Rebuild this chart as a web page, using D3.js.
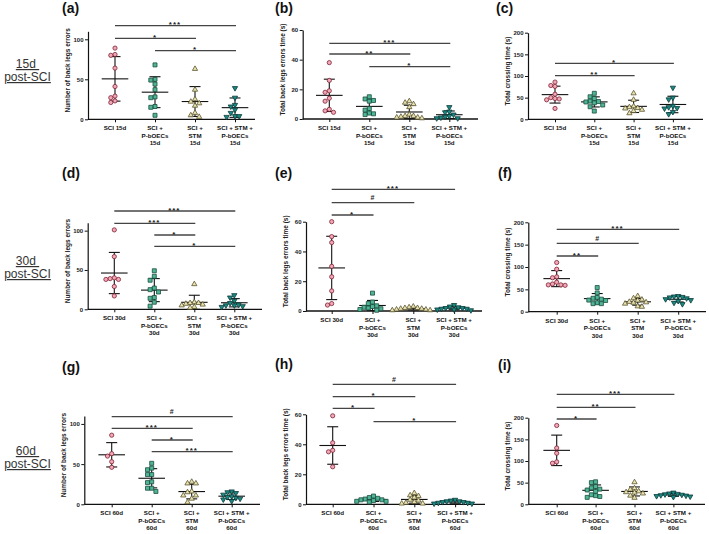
<!DOCTYPE html>
<html>
<head>
<meta charset="utf-8">
<script src="https://cdn.jsdelivr.net/npm/d3@7"></script>
<style>
  body { margin: 0; background: #fff; }
  svg { display: block; font-family: "Liberation Sans", Arial, sans-serif; }
</style>
</head>
<body>
<div id="chart"></div>
<script>
// ---- data ----
const days = ['15d', '30d', '60d'];
const categoryLines = [['SCI'], ['SCI +', 'P-bOECs'], ['SCI +', 'STM'], ['SCI + STM +', 'P-bOECs']];
const yTitles = ['Number of back legs errors', 'Total back legs errors time (s)', 'Total crossing time (s)'];
const yMaxes = [110, 60, 200];
const yTicks = [[0, 50, 100], [0, 20, 40, 60], [0, 50, 100, 150, 200]];
const panelLetters = ['(a)', '(b)', '(c)', '(d)', '(e)', '(f)', '(g)', '(h)', '(i)'];

// values per group: SCI, SCI+P-bOECs, SCI+STM, SCI+STM+P-bOECs
const errors15 = [
  [89, 81, 80, 64, 41, 29, 27, 23, 21],
  [68, 50, 49, 44, 37, 28, 27, 16, 15, 5],
  [63, 37, 25, 22, 20, 17, 8, 5, 3],
  [39, 27, 18, 16, 12, 8, 4, 4, 3]
];
const errTime15 = [
  [38, 26, 19, 18, 14, 12, 6.5, 5.5, 4.5],
  [15, 13.5, 12.5, 12, 7, 6, 4, 3.5, 3],
  [12, 11, 10, 8, 3, 2, 2, 1.5, 1, 1, 0.5],
  [8, 5, 4.5, 3, 2, 1.5, 1, 0.5, 0.5]
];
const crossing15 = [
  [86, 78, 76, 58, 50, 48, 47, 45, 25],
  [60, 52, 48, 42, 41, 40, 38, 33, 29, 19],
  [60, 45, 30, 28, 26, 25, 22, 19, 14],
  [73, 50, 46, 31, 28, 26, 25, 17, 12]
];
const errors30 = [
  [101, 67, 40, 39, 38, 38, 29, 17],
  [49, 42, 37, 27, 25, 22, 15, 14, 9, 4],
  [32, 9, 8, 8, 7, 6, 5, 3, 2],
  [18, 15, 11, 8, 6, 5, 5, 4, 3]
];
const errTime30 = [
  [60, 50, 46, 30, 23, 13.5, 5, 4],
  [12, 6, 5, 3.5, 3, 2.5, 2, 1.5, 1, 0.5],
  [3, 2.5, 2, 2, 1.5, 1.5, 1, 1, 0.5, 0.5],
  [4, 3, 2.5, 2, 2, 1.5, 1.5, 1, 1, 0.5]
];
const crossing30 = [
  [110, 95, 78, 76, 66, 62, 60, 60, 59],
  [54, 42, 32, 30, 28, 26, 25, 20, 18, 18],
  [35, 30, 27, 25, 22, 21, 20, 18, 12, 11],
  [35, 34, 33, 32, 30, 28, 26, 24, 20, 17]
];
const errors60 = [
  [86, 63, 60, 53, 46],
  [51, 45, 43, 37, 37, 28, 27, 20, 20, 16],
  [28, 26, 26, 16, 15, 11, 11, 7, 2.5],
  [16, 15, 14, 12, 10, 9, 8, 7, 6, 4]
];
const errTime60 = [
  [59, 41, 36, 35, 25],
  [5.5, 4.5, 4, 3.5, 3, 3, 2.5, 2, 2, 1.5],
  [7.5, 6, 5.5, 4.5, 3, 2.5, 1.5, 1, 0.5, 0.5],
  [3, 2.5, 2, 2, 1.5, 1.5, 1, 1, 0.5, 0.5]
];
const crossing60 = [
  [182, 130, 118, 98, 95],
  [52, 50, 41, 38, 35, 33, 30, 22, 20, 18, 16],
  [51, 37, 34, 30, 28, 27, 25, 20, 15],
  [27, 25, 24, 23, 22, 21, 20, 19, 18, 17]
];

// significance comparisons: [from group, to group, label]
const sigA = [[0, 3, '***'], [0, 2, '*'], [1, 3, '*']];
const sigB = [[0, 3, '***'], [0, 2, '**'], [1, 3, '*']];
const sigC = [[0, 3, '*'], [0, 2, '**']];
const sigD = [[0, 3, '***'], [0, 2, '***'], [1, 2, '*'], [1, 3, '*']];
const sigE = [[0, 3, '***'], [0, 2, '#'], [0, 1, '*']];
const sigF = [[0, 3, '***'], [0, 2, '#'], [0, 1, '**']];
const sigG = [[0, 3, '#'], [0, 2, '***'], [1, 2, '*'], [1, 3, '***']];
const sigH = [[0, 3, '#'], [0, 2, '*'], [0, 1, '*'], [1, 3, '*']];
const sigI = [[0, 3, '***'], [0, 2, '**'], [0, 1, '*']];

const panelValues = [errors15, errTime15, crossing15, errors30, errTime30, crossing30, errors60, errTime60, crossing60];
const panelSigs = [sigA, sigB, sigC, sigD, sigE, sigF, sigG, sigH, sigI];

// ---- layout (pixels) ----
const layout = [
  { ax: 88,    y0: 119.3, top: 31.3,  cx: 115,   step: 40,   xEnd: 255, sigY: [25.7, 38.3, 50.7], lx: 62,  ly: 13 },
  { ax: 302.7, y0: 119,   top: 30,    cx: 329.3, step: 40,   xEnd: 478, sigY: [43.3, 54, 66.7],   lx: 275, ly: 13 },
  { ax: 528,   y0: 119.3, top: 32.7,  cx: 555,   step: 39.3, xEnd: 703, sigY: [63.3, 75.7],       lx: 496, ly: 13 },
  { ax: 87.7,  y0: 309.3, top: 222.8, cx: 114.3, step: 40,   xEnd: 262, sigY: [211, 223.3, 235, 246.3], lx: 62, ly: 178 },
  { ax: 306,   y0: 311,   top: 221.7, cx: 331.7, step: 40.8, xEnd: 482, sigY: [189.3, 202.7, 215], lx: 275, ly: 178 },
  { ax: 528.3, y0: 311.7, top: 222.3, cx: 556.7, step: 40.5, xEnd: 706, sigY: [229.3, 243.3, 256], lx: 498, ly: 178 },
  { ax: 84.3,  y0: 504.3, top: 415.9, cx: 111.7, step: 40,   xEnd: 260, sigY: [416.7, 428.3, 440, 451.7], lx: 62, ly: 372 },
  { ax: 306,   y0: 504.3, top: 414.3, cx: 332.7, step: 40.8, xEnd: 485, sigY: [384.3, 396.7, 408.3, 421.7], lx: 275, ly: 369 },
  { ax: 528.3, y0: 504.3, top: 417.7, cx: 556.7, step: 38.9, xEnd: 705, sigY: [394.3, 407.3, 419], lx: 498, ly: 370 }
];
const rowLabelY = [[68, 81], [265, 278], [455, 468]];

const markers = [
  { type: d3.symbolCircle,   size: 14, rot: 0,   fill: '#f2a7b5', stroke: '#7d2235' },
  { type: d3.symbolSquare,   size: 16, rot: 0,   fill: '#4fb596', stroke: '#1b4d3e' },
  { type: d3.symbolTriangle, size: 12, rot: 0,   fill: '#e9e2b0', stroke: '#5b5530' },
  { type: d3.symbolTriangle, size: 12, rot: 180, fill: '#1a8a84', stroke: '#0b3a37' }
];

const W = 709, H = 534;
const svg = d3.select('#chart').append('svg').attr('width', W).attr('height', H);

// simple beeswarm: spread points that would overlap
function swarm(vals, y, d) {
  const placed = [];
  vals.map(v => ({ v, py: y(v) }))
    .sort((a, b) => a.py - b.py)
    .forEach(p => {
      for (let k = 0; k < 40; k++) {
        const off = (k === 0 ? 0 : (k % 2 ? -Math.ceil(k / 2) : Math.ceil(k / 2))) * d;
        const hit = placed.some(q => Math.hypot(q.off - off, q.py - p.py) < d);
        if (!hit) { p.off = off; break; }
      }
      placed.push(p);
    });
  return placed;
}

// row labels
days.forEach((day, r) => {
  const t = svg.append('text').attr('text-anchor', 'middle').attr('fill', '#333')
    .style('font-size', '12px').style('text-decoration', 'underline');
  t.append('tspan').attr('x', 27.5).attr('y', rowLabelY[r][0]).text(day + '\u00a0');
  t.append('tspan').attr('x', 27.5).attr('y', rowLabelY[r][1]).text('post-SCI');
});

panelValues.forEach((values, idx) => {
  const row = Math.floor(idx / 3), col = idx % 3;
  const L = layout[idx];
  const day = days[row];
  const y = d3.scaleLinear().domain([0, yMaxes[col]]).range([L.y0, L.top]);
  const x = d3.scalePoint().domain(d3.range(4)).range([L.cx, L.cx + 3 * L.step]);
  const g = svg.append('g');

  // panel letter
  g.append('text').attr('x', L.lx).attr('y', L.ly)
    .style('font-size', '14px').style('font-weight', 'bold').attr('fill', '#111')
    .text(panelLetters[idx]);

  // y axis
  const yAxis = g.append('g').attr('transform', `translate(${L.ax},0)`)
    .call(d3.axisLeft(y).tickValues(yTicks[col]).tickSize(3).tickSizeOuter(0).tickPadding(1.5));
  yAxis.select('.domain').attr('stroke', '#111').attr('stroke-width', 1.2);
  yAxis.selectAll('.tick line').attr('stroke', '#111').attr('stroke-width', 1);
  yAxis.selectAll('.tick text').attr('fill', '#222')
    .style('font-size', '6px').style('font-weight', 'bold').style('font-family', null);

  // y title
  g.append('text')
    .attr('transform', `translate(${L.ax - 18},${(L.top + L.y0) / 2 - 5}) rotate(-90)`)
    .attr('text-anchor', 'middle').attr('fill', '#222')
    .style('font-size', '6.5px').style('font-weight', 'bold')
    .text(yTitles[col]);

  // x axis
  g.append('line').attr('x1', L.ax).attr('x2', L.xEnd).attr('y1', L.y0).attr('y2', L.y0)
    .attr('stroke', '#111').attr('stroke-width', 1.3);
  const xAxis = g.append('g').attr('transform', `translate(0,${L.y0})`)
    .call(d3.axisBottom(x).tickSize(3).tickFormat(''));
  xAxis.select('.domain').remove();
  xAxis.selectAll('.tick line').attr('stroke', '#111').attr('stroke-width', 1);

  // category labels
  categoryLines.forEach((lines, i) => {
    const ls = i === 0 ? [lines[0] + ' ' + day] : lines.concat([day]);
    const t = g.append('text').attr('text-anchor', 'middle').attr('fill', '#111')
      .style('font-size', '6.2px').style('font-weight', 'bold');
    ls.forEach((s, j) => t.append('tspan').attr('x', x(i)).attr('y', L.y0 + 11 + j * 7.5).text(s));
  });

  // mean +/- SD
  values.forEach((vals, i) => {
    const m = d3.mean(vals), sd = d3.deviation(vals);
    const cx = x(i);
    const lo = Math.max(0, m - sd), hi = m + sd;
    const bars = g.append('g').attr('stroke', '#111').attr('stroke-width', 1.1);
    bars.append('line').attr('x1', cx).attr('x2', cx).attr('y1', y(lo)).attr('y2', y(hi));
    bars.append('line').attr('x1', cx - 13.3).attr('x2', cx + 13.3).attr('y1', y(m)).attr('y2', y(m));
    [lo, hi].forEach(v => bars.append('line').attr('x1', cx - 5.5).attr('x2', cx + 5.5).attr('y1', y(v)).attr('y2', y(v)));
  });

  // points
  values.forEach((vals, i) => {
    const mk = markers[i];
    const sym = d3.symbol().type(mk.type).size(mk.size);
    const pts = swarm(vals, y, 4.2);
    g.append('g').selectAll('path').data(pts).enter().append('path')
      .attr('d', sym)
      .attr('transform', p => `translate(${x(i) + p.off},${p.py}) rotate(${mk.rot})`)
      .attr('fill', mk.fill).attr('stroke', mk.stroke).attr('stroke-width', 0.8);
  });

  // significance bars
  panelSigs[idx].forEach((s, k) => {
    const yy = L.sigY[k];
    const x1 = x(s[0]), x2 = x(s[1]);
    g.append('line').attr('x1', x1).attr('x2', x2 + 1).attr('y1', yy).attr('y2', yy)
      .attr('stroke', '#444').attr('stroke-width', 1.3);
    const isHash = s[2] === '#';
    g.append('text').attr('x', (x1 + x2) / 2).attr('y', isHash ? yy - 2.5 : yy + 1.5)
      .attr('text-anchor', 'middle').attr('fill', '#222')
      .style('font-size', isHash ? '7px' : '8px').style('font-weight', 'bold')
      .style('letter-spacing', isHash ? '0px' : '1px')
      .text(s[2]);
  });
});
</script>
</body>
</html>
